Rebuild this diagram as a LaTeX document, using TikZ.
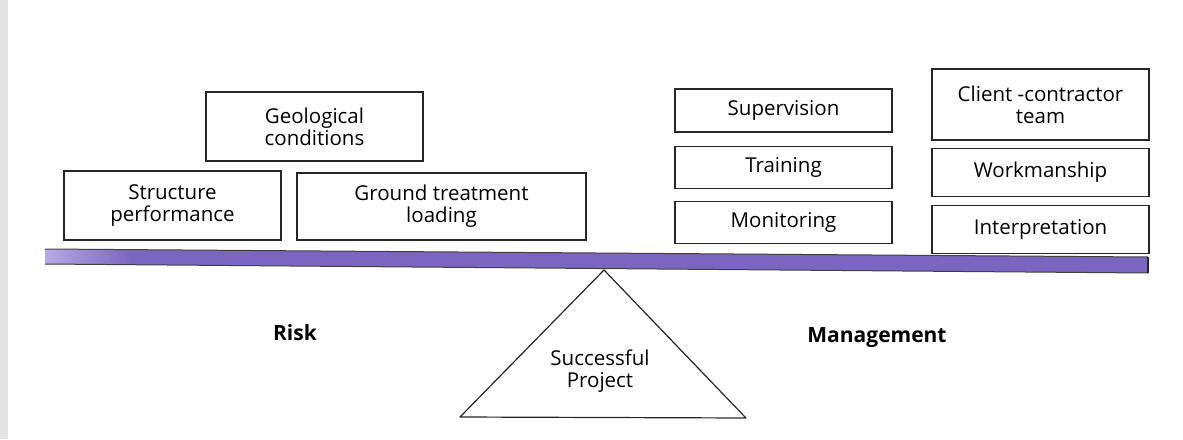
\documentclass[tikz,border=0pt]{standalone}
\usepackage{fontspec}
\setmainfont{Open Sans}
\usetikzlibrary{positioning}

\definecolor{barmain}{RGB}{122,102,192}
\definecolor{barlight}{RGB}{182,170,228}
\definecolor{pageedge}{RGB}{228,228,228}

\begin{document}
\begin{tikzpicture}[x=1pt,y=-1pt,node distance=13pt,
		box/.style={draw=black!85,line width=1.3pt,minimum width=217pt,align=center,
			font=\fontsize{20.5}{22}\selectfont,inner sep=2pt},
		side/.style={font=\fontsize{21}{24}\selectfont\bfseries}]
		\useasboundingbox (0,0) rectangle (1183,439);
		\fill[pageedge] (0,0) rectangle (8,439);
		% risk side
		\node[box,minimum height=69pt] (geo) at (314.5,126.5) {Geological\\conditions};
		\node[box,minimum height=69pt] (struct) at (172.5,205.5) {Structure\\performance};
		\node[box,minimum width=289pt,minimum height=67pt] (ground) at (441.5,206.5) {Ground treatment\\loading};
		% management side
		\node[box,minimum height=43pt] (sup) at (783.5,110.5) {Supervision};
		\node[box,minimum height=42pt] (train) [below=13pt of sup] {Training};
		\node[box,minimum height=42pt] (monit) [below=12pt of train] {Monitoring};
		\node[box,minimum height=71pt] (client) at (1040.5,104.5) {Client -contractor\\team};
		\node[box,minimum height=48pt] (work) [below=7pt of client] {Workmanship};
		\node[box,minimum height=48pt] (interp) [below=8pt of work] {Interpretation};
		% beam
		\coordinate (blt) at (45,249);
		\coordinate (brt) at (1148,257);
		\coordinate (brb) at (1148,273);
		\coordinate (blb) at (45,264);
		\fill[barmain] (blt) -- (brt) -- (brb) -- (blb) -- cycle;
		\shade[left color=barlight,right color=barmain] (45,249) -- (130,249.6) -- (130,264.6) -- (45,264) -- cycle;
		\draw[black!75,line width=1pt] (blt) -- (brt) (blb) -- (brb);
		\draw[black!85,line width=1.5pt] (brt) -- (brb);
		% pivot
		\coordinate (apex) at (604,270);
		\coordinate (tl) at (460,417);
		\coordinate (tr) at (746,418);
		\draw[black!85,line width=1.2pt,line join=round] (apex) -- (tr) -- (tl) -- cycle;
		\node[align=center,font=\fontsize{20.5}{22}\selectfont] (proj) at (600,371) {Successful\\Project};
		\node[side] (risk) at (295,333) {Risk};
		\node[side] (mgmt) at (877,338) {Management};
\end{tikzpicture}
\end{document}
